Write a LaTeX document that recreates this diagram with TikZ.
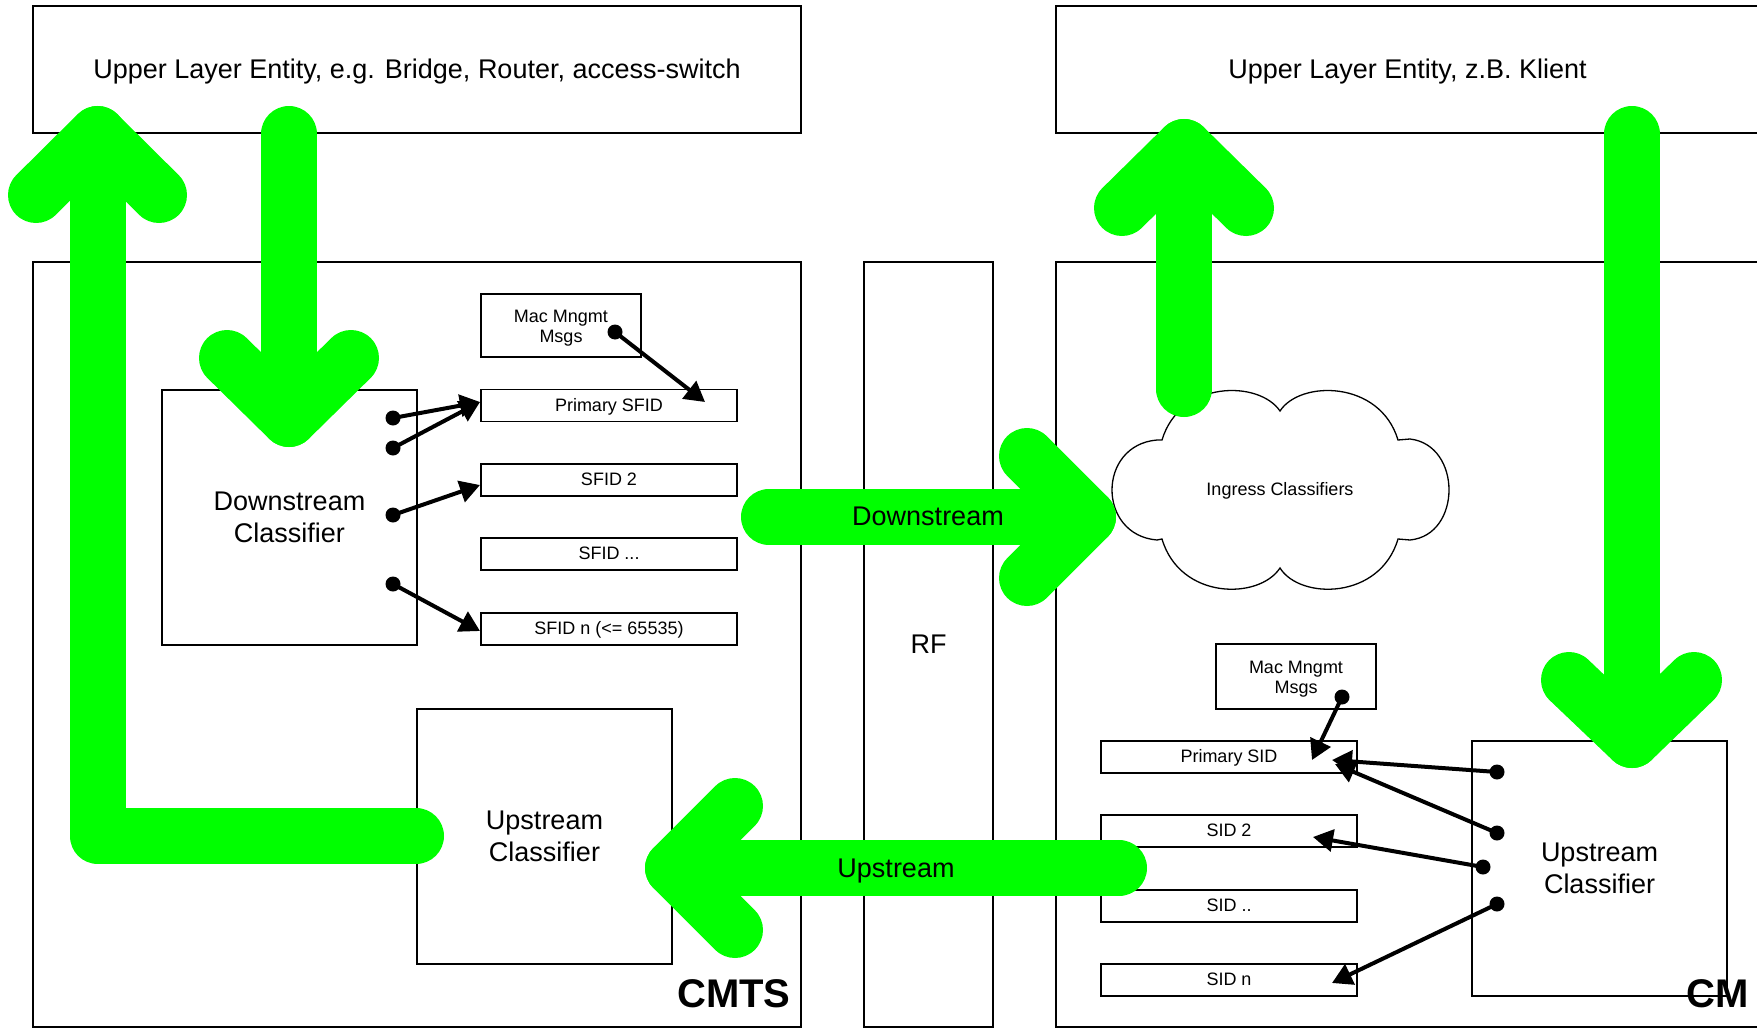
\documentclass[tikz,border=0pt]{standalone}
\usepackage{fontspec}
\setmainfont{Liberation Sans}
\usetikzlibrary{arrows.meta}
\definecolor{flow}{RGB}{0,255,0}
\begin{document}
\begin{tikzpicture}[x=0.5pt,y=-0.5pt,
  box/.style={draw=black, line width=0.75pt, inner sep=0pt, align=center},
  big/.style={font=\fontsize{13.5}{16}\selectfont},
  small/.style={font=\fontsize{9}{10}\selectfont},
  bigline/.style={big, text height=12pt, text depth=2.8pt},
  smallline/.style={small, text height=7pt, text depth=1.5pt},
  label/.style={inner sep=0pt, font=\fontsize{20}{24}\selectfont\bfseries},
  flowline/.style={draw=flow, line width=28pt, line cap=round, line join=round},
  ptr/.style={draw=black, line width=2pt, -{Triangle[length=10pt,width=11pt]}},
  dotm/.style={circle, fill=black, inner sep=0pt, minimum size=7.5pt},
  sfid/.style={box, smallline, minimum width=128pt, minimum height=16pt},
]
\fill[white] (0,0) rectangle (1757,1028);
\useasboundingbox (0,0) rectangle (1757,1028);

% big frames
\node[box, bigline, minimum width=384pt, minimum height=63.5pt] (ule1) at (417,69.5) {Upper Layer Entity, e.g. Bridge, Router, access-switch};
\node[box, bigline, minimum width=351.5pt, minimum height=63.5pt] (ule2) at (1407.5,69.5) {Upper Layer Entity, z.B. Klient};
\node[box, minimum width=384pt, minimum height=382.5pt] (cmts) at (417,644.5) {};
\node[box, bigline, minimum width=64.5pt, minimum height=382.5pt] (rf) at (928.5,644.5) {RF};
\node[box, minimum width=351.5pt, minimum height=382.5pt] (cm) at (1407.5,644.5) {};
\node[label, anchor=base east] (cmtslbl) at (791,1007) {CMTS};
\node[label, anchor=base east] (cmlbl) at (1749,1007) {CM};

% CMTS inner
\node[box, big, minimum width=127.5pt, minimum height=127.5pt] (dcls) at (289.5,517.5) {Downstream\\Classifier};
\node[box, minimum width=80pt, minimum height=31.5pt] (mac1) at (561,325.5) {};
\node[small, align=center, inner sep=0pt] (mac1t) at (561,328) {Mac Mngmt\\Msgs};
\node[sfid] (sf1) at (609,405.5) {Primary SFID};
\node[sfid] (sf2) at (609,480) {SFID 2};
\node[sfid] (sf3) at (609,554) {SFID ...};
\node[sfid] (sfn) at (609,629) {SFID n (<= 65535)};
\node[box, big, minimum width=127.5pt, minimum height=127.5pt] (ucls1) at (544.5,836.5) {Upstream\\Classifier};

% CM inner
\node[box, minimum width=80pt, minimum height=32.5pt] (mac2) at (1296,676.5) {};
\node[small, align=center, inner sep=0pt] (mac2t) at (1296,679) {Mac Mngmt\\Msgs};
\node[sfid] (sid1) at (1229,757) {Primary SID};
\node[sfid] (sid2) at (1229,831) {SID 2};
\node[sfid] (sid3) at (1229,906) {SID ..};
\node[sfid] (sidn) at (1229,980) {SID n};
\node[box, big, minimum width=127.5pt, minimum height=127.5pt] (ucls2) at (1599.5,868.5) {Upstream\\Classifier};

% cloud
\draw[black, line width=0.65pt, fill=white]
  (1162,440) .. controls (1180,380) and (1259,380) .. (1280,411)
  .. controls (1300,380) and (1380,380) .. (1398,440)
  -- (1410,439) .. controls (1462,445) and (1462,535) .. (1410,540)
  -- (1398,539) .. controls (1380,600) and (1300,600) .. (1280,568)
  .. controls (1259,600) and (1180,600) .. (1162,539)
  -- (1157,540) .. controls (1097,535) and (1097,445) .. (1157,440) -- cycle;
\node[smallline, inner sep=0pt] (ingress) at (1280,490) {Ingress Classifiers};

% green flows
\coordinate (a1) at (416,836); \coordinate (a2) at (97.5,836); \coordinate (a3) at (97.5,134);
\coordinate (a4) at (36,195); \coordinate (a5) at (159,195);
\draw[flowline] (a1) -- (a2) -- (a3);
\draw[flowline] (a4) -- (a3) -- (a5);

\coordinate (b1) at (289,134); \coordinate (b2) at (289,419);
\coordinate (b3) at (227,358); \coordinate (b4) at (351,358);
\draw[flowline] (b1) -- (b2);
\draw[flowline] (b3) -- (b2) -- (b4);

\coordinate (c1) at (769,517); \coordinate (c2) at (1088,517);
\coordinate (c3) at (1027,456); \coordinate (c4) at (1027,578);
\draw[flowline] (c1) -- (c2);
\draw[flowline] (c3) -- (c2) -- (c4);

\coordinate (g1) at (1119,868); \coordinate (g2) at (673,868);
\coordinate (g3) at (735,806); \coordinate (g4) at (735,930);
\draw[flowline] (g1) -- (g2);
\draw[flowline] (g3) -- (g2) -- (g4);

\coordinate (h1) at (1184,389); \coordinate (h2) at (1184,147);
\coordinate (h3) at (1122,208); \coordinate (h4) at (1246,208);
\draw[flowline] (h1) -- (h2);
\draw[flowline] (h3) -- (h2) -- (h4);

\coordinate (k1) at (1632,134); \coordinate (k2) at (1632,740);
\coordinate (k3) at (1569,680); \coordinate (k4) at (1694,680);
\draw[flowline] (k1) -- (k2);
\draw[flowline] (k3) -- (k2) -- (k4);

\node[bigline, inner sep=0pt] (dslbl) at (928,516) {Downstream};
\node[bigline, inner sep=0pt] (uslbl) at (896,868) {Upstream};

% CMTS pointers
\node[dotm] (d1) at (393,418) {};
\node[dotm] (d2) at (393,448) {};
\node[dotm] (d3) at (393,515) {};
\node[dotm] (d4) at (393,584) {};
\node[dotm] (dm1) at (615,332) {};
\coordinate (t1) at (480,402);
\coordinate (t3) at (480,485);
\coordinate (t4) at (480,631);
\coordinate (tm1) at (705,402);
\draw[ptr] (d1.center) -- (t1);
\draw[ptr] (d2.center) -- (t1);
\draw[ptr] (d3.center) -- (t3);
\draw[ptr] (d4.center) -- (t4);
\draw[ptr] (dm1.center) -- (tm1);

% CM pointers
\node[dotm] (e1) at (1497,772) {};
\node[dotm] (e2) at (1497,833) {};
\node[dotm] (e3) at (1483,867) {};
\node[dotm] (e4) at (1497,904) {};
\node[dotm] (dm2) at (1342,697) {};
\coordinate (u1) at (1332,760);
\coordinate (u2) at (1335,764);
\coordinate (u3) at (1313,837);
\coordinate (u4) at (1332,983);
\coordinate (tm2) at (1312,760);
\draw[ptr] (e1.center) -- (u1);
\draw[ptr] (e2.center) -- (u2);
\draw[ptr] (e3.center) -- (u3);
\draw[ptr] (e4.center) -- (u4);
\draw[ptr] (dm2.center) -- (tm2);
\end{tikzpicture}
\end{document}
